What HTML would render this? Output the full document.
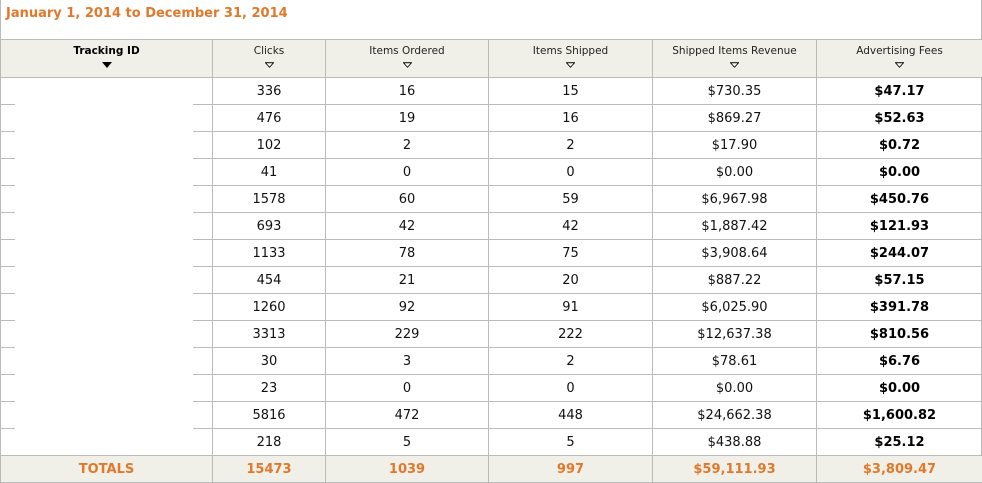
<!DOCTYPE html>
<html><head><style>
body{margin:0;width:982px;height:483px;background:#fff;font-family:"DejaVu Sans","Liberation Sans",sans-serif;position:relative;overflow:hidden}
.title{position:absolute;left:6px;top:6px;color:#e2782a;font-weight:bold;font-size:13px}
.frame{position:absolute;left:0;top:0;width:980px;height:482px;border-left:1px solid #bbb;border-right:1px solid #bbb}
table{position:absolute;left:0;top:39px;border-collapse:collapse;table-layout:fixed;width:982px}
td,th{border:1px solid #bbb;text-align:center;font-size:13px;color:#111;height:26px;padding:0}
th{background:#f0f0e8;height:32px;font-weight:normal;font-size:10.5px;vertical-align:top;padding-top:5px;color:#222}
th.b{font-weight:bold;color:#000}
.tri{display:block;margin:5px auto 0;width:0;height:0;border-left:5px solid transparent;border-right:5px solid transparent;border-top:6px solid #000}
.tro{display:block;margin:5px auto 0;width:9px;height:6px}
td.f{font-weight:bold;font-size:13px;color:#000}
tr.t td{background:#f0f0e8;color:#e2782a;font-weight:bold;font-size:13px;height:26px}
.cover{position:absolute;left:15px;top:78px;width:178px;height:377px;background:#fff}
</style></head><body>
<div class="frame"></div>
<div class="title">January 1, 2014 to December 31, 2014</div>
<table>
<colgroup><col style="width:212px"><col style="width:113px"><col style="width:163px"><col style="width:164px"><col style="width:164px"><col style="width:166px"></colgroup>
<tr><th class="b">Tracking ID<span class="tri"></span></th>
<th>Clicks<svg class="tro" viewBox="0 0 10 6"><path d="M0.5 0.5H9.5L5 5.5Z" fill="#fff" stroke="#000"/></svg></th>
<th>Items Ordered<svg class="tro" viewBox="0 0 10 6"><path d="M0.5 0.5H9.5L5 5.5Z" fill="#fff" stroke="#000"/></svg></th>
<th>Items Shipped<svg class="tro" viewBox="0 0 10 6"><path d="M0.5 0.5H9.5L5 5.5Z" fill="#fff" stroke="#000"/></svg></th>
<th>Shipped Items Revenue<svg class="tro" viewBox="0 0 10 6"><path d="M0.5 0.5H9.5L5 5.5Z" fill="#fff" stroke="#000"/></svg></th>
<th>Advertising Fees<svg class="tro" viewBox="0 0 10 6"><path d="M0.5 0.5H9.5L5 5.5Z" fill="#fff" stroke="#000"/></svg></th></tr>
<tr><td></td><td>336</td><td>16</td><td>15</td><td>$730.35</td><td class="f">$47.17</td></tr>
<tr><td></td><td>476</td><td>19</td><td>16</td><td>$869.27</td><td class="f">$52.63</td></tr>
<tr><td></td><td>102</td><td>2</td><td>2</td><td>$17.90</td><td class="f">$0.72</td></tr>
<tr><td></td><td>41</td><td>0</td><td>0</td><td>$0.00</td><td class="f">$0.00</td></tr>
<tr><td></td><td>1578</td><td>60</td><td>59</td><td>$6,967.98</td><td class="f">$450.76</td></tr>
<tr><td></td><td>693</td><td>42</td><td>42</td><td>$1,887.42</td><td class="f">$121.93</td></tr>
<tr><td></td><td>1133</td><td>78</td><td>75</td><td>$3,908.64</td><td class="f">$244.07</td></tr>
<tr><td></td><td>454</td><td>21</td><td>20</td><td>$887.22</td><td class="f">$57.15</td></tr>
<tr><td></td><td>1260</td><td>92</td><td>91</td><td>$6,025.90</td><td class="f">$391.78</td></tr>
<tr><td></td><td>3313</td><td>229</td><td>222</td><td>$12,637.38</td><td class="f">$810.56</td></tr>
<tr><td></td><td>30</td><td>3</td><td>2</td><td>$78.61</td><td class="f">$6.76</td></tr>
<tr><td></td><td>23</td><td>0</td><td>0</td><td>$0.00</td><td class="f">$0.00</td></tr>
<tr><td></td><td>5816</td><td>472</td><td>448</td><td>$24,662.38</td><td class="f">$1,600.82</td></tr>
<tr><td></td><td>218</td><td>5</td><td>5</td><td>$438.88</td><td class="f">$25.12</td></tr>
<tr class="t"><td>TOTALS</td><td>15473</td><td>1039</td><td>997</td><td>$59,111.93</td><td>$3,809.47</td></tr>
</table>
<div class="cover"></div>
</body></html>
